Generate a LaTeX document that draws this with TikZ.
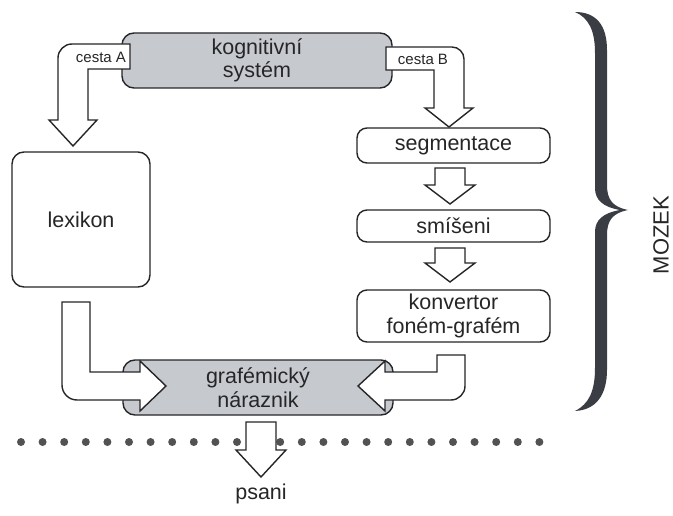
\documentclass[tikz,border=0pt]{standalone}
\usepackage{fontspec}
\setmainfont{Liberation Sans}
\usetikzlibrary{calc}
\definecolor{boxgray}{RGB}{198,202,207}
\definecolor{ink}{RGB}{38,38,40}
\definecolor{bracecol}{RGB}{58,62,68}
\begin{document}
\begin{tikzpicture}[x=1pt,y=-1pt,line width=1.4pt,
  font=\fontsize{21.5}{23.5}\selectfont, text=ink,
  box/.style={draw=ink, fill=white, rounded corners=10pt, align=center, inner sep=0pt},
  graybox/.style={box, fill=boxgray, rounded corners=12pt},
  blockarrow/.style={draw=ink, fill=white, line join=miter},
  pathlabel/.style={font=\fontsize{15}{16}\selectfont, inner sep=0pt},
  dotmark/.style={circle, fill=black!68, draw=none, inner sep=0pt, minimum size=8pt}]
\useasboundingbox (0,0) rectangle (673,516);

% boxes
\node[graybox, minimum width=270pt, minimum height=55pt] (kog) at (257,60.5) {kognitivní\\systém};
\node[graybox, minimum width=270pt, minimum height=55pt] (graf) at (258,387.5) {grafémický\\náraznik};
\node[box, rounded corners=12pt, minimum width=138pt, minimum height=135pt] (lex) at (81,219.5) {lexikon};
\node[box, minimum width=193pt, minimum height=35pt] (seg) at (453.5,145.5) {segmentace};
\node[box, minimum width=193pt, minimum height=32pt] (smi) at (453.5,226) {smíšeni};
\node[box, minimum width=193pt, minimum height=52pt] (kon) at (453.5,316) {konvertor\\foném-grafém};

% dotted line
\foreach \i in {0,...,24} \node[dotmark] (d\i) at ({21+21.6*\i},442) {};

% brace and label
\fill[bracecol] (575,12) .. controls (596,12) and (607,25) .. (607,50) -- (607,185)
  .. controls (607,200) and (613,207) .. (628,210)
  .. controls (613,213) and (607,220) .. (607,235) -- (607,370)
  .. controls (607,395) and (596,410) .. (575,411)
  .. controls (589,404) and (595,391) .. (595,368) -- (595,232)
  .. controls (595,220) and (603,213) .. (620,210)
  .. controls (603,207) and (595,200) .. (595,188) -- (595,53)
  .. controls (595,31) and (589,18) .. (575,12) -- cycle;
\node[rotate=90, font=\fontsize{22}{24}\selectfont] (mozek) at (661,235) {MOZEK};

% block arrows
% cesta A: kognitivni -> lexikon
\draw[blockarrow] (130,44) -- (72,44) .. controls (64.3,44) and (58,50.3) .. (58,58)
  -- (58,120) -- (49,120) -- (73,146) -- (97,120) -- (88,120) -- (88,69) -- (130,69) -- cycle;
% cesta B: kognitivni -> segmentace
\draw[blockarrow] (386,47) -- (452,47) .. controls (458.6,47) and (464,52.4) .. (464,59)
  -- (464,108) -- (473,108) -- (449,127) -- (425,108) -- (434,108) -- (434,70) -- (386,70) -- cycle;
% segmentace -> smiseni
\draw[blockarrow] (435,168) -- (465,168) -- (465,185) -- (475,185) -- (450,204) -- (425,185) -- (435,185) -- cycle;
% smiseni -> konvertor
\draw[blockarrow] (435,248) -- (465,248) -- (465,263) -- (475,263) -- (450,282) -- (425,263) -- (435,263) -- cycle;
% lexikon -> grafemicky
\draw[blockarrow] (62,302) -- (90,302) -- (90,372) -- (140,372) -- (140,361) -- (166,386)
  -- (140,411) -- (140,400) -- (77,400) .. controls (68.7,400) and (62,393.3) .. (62,385) -- cycle;
% konvertor -> grafemicky
\draw[blockarrow] (437,355) -- (465,355) -- (465,386) .. controls (465,393.7) and (458.7,400) .. (451,400)
  -- (385,400) -- (385,411) -- (358,386) -- (385,361) -- (385,372) -- (437,372) -- cycle;
% grafemicky -> psani
\draw[blockarrow] (246,422) -- (276,422) -- (276,450) -- (286,450) -- (261,477) -- (236,450) -- (246,450) -- cycle;

% labels
\node[pathlabel] (ca) at (101,57) {cesta A};
\node[pathlabel] (cb) at (423,59) {cesta B};
\node (psani) at (261,494) {psani};
\end{tikzpicture}
\end{document}
